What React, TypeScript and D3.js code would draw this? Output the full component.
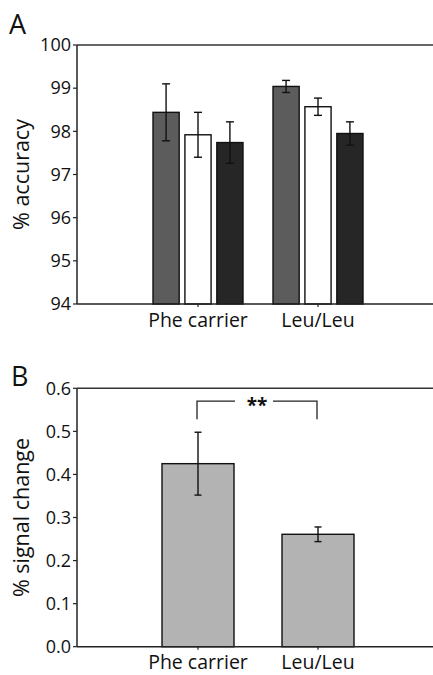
import React, { useEffect, useRef } from 'react';
import * as d3 from 'd3';

// categories shared by both panels
const groups = ['Phe carrier', 'Leu/Leu'];

// panel A: three conditions per group (% accuracy, mean and error)
const conditions = ['c1', 'c2', 'c3'];
const conditionColors = ['#5c5c5c', '#ffffff', '#262626'];
const accuracyMeans = [
  [98.44, 97.92, 97.74],
  [99.04, 98.57, 97.95],
];
const accuracyErrors = [
  [0.66, 0.52, 0.48],
  [0.14, 0.2, 0.27],
];
const accuracyTicks = [94, 95, 96, 97, 98, 99, 100];

// panel B: % signal change
const signalMeans = [0.425, 0.261];
const signalErrors = [0.073, 0.017];
const signalTicks = [0, 0.1, 0.2, 0.3, 0.4, 0.5, 0.6];
const bracketLevel = 0.57;
const bracketLegEnd = 0.528;
const bracketLabel = '**';

const FONT = '"Open Sans", sans-serif';

const App = () => {
  const svgRef = useRef<SVGSVGElement>(null);

  useEffect(() => {
    const svg = d3.select(svgRef.current);
    svg.selectAll('*').remove();

    const left = 77;
    const right = 433;
    const x = d3.scaleBand().domain(groups).range([78, 438]).paddingInner(0).paddingOuter(0.5);

    const drawFrame = (g, y, ticks, fmt, title) => {
      const [y0, y1] = y.range();
      // left, top and bottom lines
      g.append('line').attr('x1', left).attr('x2', left).attr('y1', y0).attr('y2', y1)
        .attr('stroke', '#222').attr('stroke-width', 1.5);
      g.append('line').attr('x1', left).attr('x2', right).attr('y1', y1).attr('y2', y1)
        .attr('stroke', '#333').attr('stroke-width', 1.5);
      g.append('line').attr('x1', left).attr('x2', right).attr('y1', y0).attr('y2', y0)
        .attr('stroke', '#222').attr('stroke-width', 1.5);

      g.selectAll('.ytick').data(ticks).enter().append('line')
        .attr('x1', left - 4).attr('x2', left).attr('y1', d => y(d)).attr('y2', d => y(d))
        .attr('stroke', '#222').attr('stroke-width', 1.2);
      g.selectAll('.ylabel').data(ticks).enter().append('text')
        .attr('x', left - 6).attr('y', d => y(d)).attr('dy', '0.35em')
        .attr('text-anchor', 'end').attr('font-size', 18).attr('fill', '#111')
        .text(d => fmt(d));

      g.selectAll('.xtick').data(groups).enter().append('line')
        .attr('x1', d => x(d) + x.bandwidth() / 2).attr('x2', d => x(d) + x.bandwidth() / 2)
        .attr('y1', y0).attr('y2', y0 + 3).attr('stroke', '#222').attr('stroke-width', 1.2);
      g.selectAll('.xlabel').data(groups).enter().append('text')
        .attr('x', d => x(d) + x.bandwidth() / 2).attr('y', y0 + 22.5)
        .attr('text-anchor', 'middle').attr('font-size', 19.5).attr('fill', '#111')
        .text(d => d);

      g.append('text')
        .attr('transform', `translate(29,${(y0 + y1) / 2}) rotate(-90)`)
        .attr('text-anchor', 'middle').attr('font-size', 21.5).attr('fill', '#111')
        .text(title);
    };

    const drawErr = (g, cx, yTop, yBot, w) => {
      g.append('line').attr('x1', cx).attr('x2', cx).attr('y1', yTop).attr('y2', yBot)
        .attr('stroke', '#111').attr('stroke-width', 1.4);
      [yTop, yBot].forEach(yy => {
        g.append('line').attr('x1', cx - w / 2).attr('x2', cx + w / 2).attr('y1', yy).attr('y2', yy)
          .attr('stroke', '#111').attr('stroke-width', 1.4);
      });
    };

    const root = svg.append('g').attr('font-family', FONT);

    // ---- Panel A ----
    const gA = root.append('g');
    const yA = d3.scaleLinear().domain([94, 100]).range([304, 45]);
    const x1 = d3.scaleBand().domain(conditions).range([0, 90]).paddingInner(0.18).paddingOuter(0);

    groups.forEach((grp, gi) => {
      const gx = x(grp) + x.bandwidth() / 2 - 45;
      conditions.forEach((c, ci) => {
        const v = accuracyMeans[gi][ci];
        gA.append('rect')
          .attr('x', gx + x1(c)).attr('y', yA(v))
          .attr('width', x1.bandwidth()).attr('height', yA(94) - yA(v))
          .attr('fill', conditionColors[ci]).attr('stroke', '#111').attr('stroke-width', 1.4);
      });
    });
    groups.forEach((grp, gi) => {
      const gx = x(grp) + x.bandwidth() / 2 - 45;
      conditions.forEach((c, ci) => {
        const v = accuracyMeans[gi][ci];
        const e = accuracyErrors[gi][ci];
        drawErr(gA, gx + x1(c) + x1.bandwidth() / 2, yA(v + e), yA(v - e), 8);
      });
    });
    drawFrame(gA, yA, accuracyTicks, d3.format('d'), '% accuracy');
    gA.append('text').attr('x', 9).attr('y', 34).attr('font-size', 27).attr('fill', '#111').text('A');

    // ---- Panel B ----
    const gB = root.append('g');
    const yB = d3.scaleLinear().domain([0, 0.6]).range([646.7, 388.3]);
    const bw = x.bandwidth() * 0.6;
    groups.forEach((grp, gi) => {
      const cx = x(grp) + x.bandwidth() / 2;
      const v = signalMeans[gi];
      gB.append('rect')
        .attr('x', cx - bw / 2).attr('y', yB(v))
        .attr('width', bw).attr('height', yB(0) - yB(v))
        .attr('fill', '#b3b3b3').attr('stroke', '#111').attr('stroke-width', 1.4);
      drawErr(gB, cx, yB(v + signalErrors[gi]), yB(v - signalErrors[gi]), 7);
    });
    drawFrame(gB, yB, signalTicks, d3.format('.1f'), '% signal change');
    gB.append('text').attr('x', 11).attr('y', 386).attr('font-size', 27).attr('fill', '#111').text('B');

    // significance bracket
    const bx0 = x(groups[0]) + x.bandwidth() / 2 - 1;
    const bx1 = x(groups[1]) + x.bandwidth() / 2 - 1;
    const bmid = (bx0 + bx1) / 2;
    const by = yB(bracketLevel);
    const byEnd = yB(bracketLegEnd);
    const bracket = gB.append('g').attr('stroke', '#222').attr('stroke-width', 1.3).attr('fill', 'none');
    bracket.append('path').attr('d', `M${bx0},${byEnd}V${by}H${bmid - 22}`);
    bracket.append('path').attr('d', `M${bmid + 16},${by}H${bx1}V${byEnd}`);
    gB.append('text').attr('x', bmid).attr('y', by + 11)
      .attr('text-anchor', 'middle').attr('font-size', 19).attr('font-weight', 'bold')
      .attr('fill', '#111').text(bracketLabel);
  }, []);

  return (
    <div style={{ position: 'absolute', left: 0, top: 0, background: '#fff' }}>
      <svg ref={svgRef} width={433} height={675} style={{ display: 'block' }} />
    </div>
  );
};

export default App;
